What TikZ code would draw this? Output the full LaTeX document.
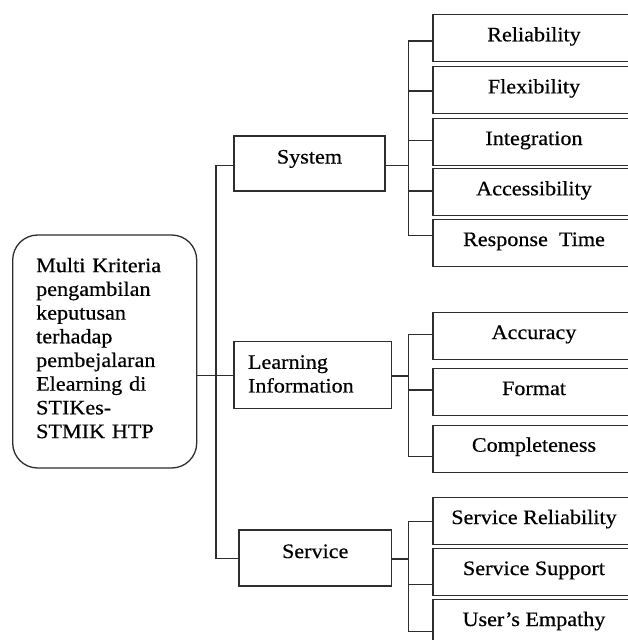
\documentclass[tikz,border=0pt]{standalone}
\usepackage{fontspec}
\setmainfont{Liberation Serif}[FakeStretch=1.08,FakeBold=0.5]
\begin{document}
\begin{tikzpicture}[x=1pt,y=-1pt,
  every node/.style={font=\fontsize{20.5}{23.7}\selectfont, text=black},
  box/.style={draw=black!82, line width=1.3pt, rectangle, inner sep=0pt},
  leaf/.style={box, minimum width=202pt, minimum height=47pt, text height=14pt, text depth=8pt},
  mid/.style={box, text height=10pt, text depth=10pt},
  conn/.style={draw=black!82, line width=1.3pt}]
\fill[white] (0,0) rectangle (628,640);
\useasboundingbox (0,0) rectangle (628,640);
\clip (0,0) rectangle (628,640);

% root
\node[box, rounded corners=25pt, minimum width=184pt, minimum height=233pt,
      text width=137pt, align=left] (root) at (104.7,351.5)
  {Multi Kriteria\\ pengambilan\\ keputusan\\ terhadap\\ pembejalaran\\ Elearning di\\ STIKes-\\ STMIK HTP\rule[-7pt]{0pt}{0pt}};

% middle level
\node[mid, minimum width=151pt, minimum height=55pt] (sys) at (309.5,163.5) {System};
\node[box, minimum width=157.5pt, minimum height=66.6pt, text width=129.5pt, align=left]
  (learn) at (312.75,375) {Learning\\ Information\rule[-2.3pt]{0pt}{0pt}};
\node[mid, minimum width=152.5pt, minimum height=56pt] (serv) at (315.25,558) {Service};

% leaves
\node[leaf] (rel)   at (534,38.3)  {Reliability};
\node[leaf] (flex)  at (534,90.3)  {Flexibility};
\node[leaf] (integ) at (534,142)   {Integration};
\node[leaf] (acc)   at (534,192.3) {Accessibility};
\node[leaf] (resp)  at (534,243)   {Response\ \ Time};
\node[leaf] (accu)  at (534,336)   {Accuracy};
\node[leaf] (fmt)   at (534,392)   {Format};
\node[leaf] (comp)  at (534,448.7) {Completeness};
\node[leaf] (srel)  at (534,521)   {Service Reliability};
\node[leaf] (ssup)  at (534,572)   {Service Support};
\node[leaf] (emp)   at (534,623)   {User’s Empathy};

% trunk
\coordinate (trunk) at (216,375.5);
\draw[conn] ([yshift=-24pt]root.east) -- ([yshift=-0.5pt]learn.west);
\draw[conn] ([yshift=-2pt]sys.west) -| (trunk) |- ([yshift=-0.5pt]serv.west);

% system group
\draw[conn] ([yshift=-2pt]sys.east) -- ++(22.7,0) coordinate (sj);
\draw[conn] ([yshift=-2.7pt]rel.west) -| (sj);
\draw[conn] ([yshift=-0.7pt]flex.west) -| (sj);
\draw[conn] ([yshift=1.3pt]integ.west) -| (sj);
\draw[conn] ([yshift=1.3pt]acc.west) -| (sj);
\draw[conn] ([yshift=7.3pt]resp.west) -| (sj);

% learning group
\draw[conn] ([yshift=-1pt]learn.east) -- ++(16,0) coordinate (lj);
\draw[conn] ([yshift=1.3pt]accu.west) -| (lj);
\draw[conn] ([yshift=2pt]fmt.west) -| (lj);
\draw[conn] ([yshift=-8pt]comp.west) -| (lj);

% service group
\draw[conn] ([yshift=-1pt]serv.east) -- ++(16,0) coordinate (svj);
\draw[conn] ([yshift=-0.7pt]srel.west) -| (svj);
\draw[conn] ([yshift=-12.3pt]ssup.west) -| (svj);
\draw[conn] ([yshift=-8.7pt]emp.west) -| (svj);
\end{tikzpicture}
\end{document}
